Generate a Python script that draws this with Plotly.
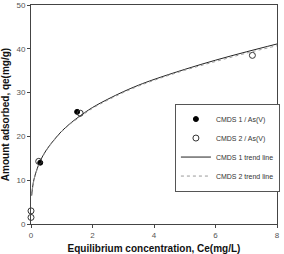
import plotly.graph_objects as go

# Data
c1_x = [0.3, 1.5]
c1_y = [14.0, 25.6]
c2_x = [0.0, 0.0, 0.25, 1.6, 7.2]
c2_y = [3.0, 1.5, 14.3, 25.3, 38.5]

trend_x = [0.02, 0.05, 0.1, 0.2, 0.3, 0.5, 0.75, 1.0, 1.25, 1.5, 2.0, 2.5, 3.0, 3.5, 4.0, 5.0, 6.0, 7.0, 8.0]
trend1_y = [6.5, 8.3, 10.3, 12.6, 14.4, 16.9, 19.2, 21.2, 22.8, 24.2, 26.6, 28.5, 30.2, 31.7, 33.0, 35.3, 37.4, 39.3, 41.1]
trend2_y = [6.4, 8.2, 10.2, 12.5, 14.3, 16.8, 19.1, 21.1, 22.7, 24.0, 26.4, 28.3, 30.0, 31.5, 32.8, 35.1, 37.1, 39.0, 40.7]

x_ticks = [0, 2, 4, 6, 8]
y_ticks = [0, 10, 20, 30, 40, 50]

fig = go.Figure()
fig.add_trace(go.Scatter(x=trend_x, y=trend1_y, mode="lines", name="CMDS 1 trend line",
                         line=dict(color="#222222", width=1, shape="spline"), legendrank=3))
fig.add_trace(go.Scatter(x=trend_x, y=trend2_y, mode="lines", name="CMDS 2 trend line",
                         line=dict(color="#999999", width=1, dash="dot", shape="spline"), legendrank=4))
fig.add_trace(go.Scatter(x=c1_x, y=c1_y, mode="markers", name="CMDS 1 / As(V)",
                         marker=dict(symbol="circle", size=5, color="black",
                                     line=dict(color="black", width=1)), cliponaxis=False, legendrank=1))
fig.add_trace(go.Scatter(x=c2_x, y=c2_y, mode="markers", name="CMDS 2 / As(V)",
                         marker=dict(symbol="circle-open", size=6, color="#333333",
                                     line=dict(color="#333333", width=1)), cliponaxis=False, legendrank=2))

fig.update_layout(
    width=284, height=254,
    margin=dict(l=31, r=4, t=5, b=30),
    paper_bgcolor="white", plot_bgcolor="white",
    font=dict(family="Liberation Sans, Arial, sans-serif", size=8, color="#555555"),
    showlegend=True,
    legend=dict(x=0.585, y=0.55, xanchor="left", yanchor="top",
                bgcolor="white", bordercolor="#555555", borderwidth=1,
                font=dict(size=7, color="#333333"),
                traceorder="normal", itemwidth=30, tracegroupgap=0),
    xaxis=dict(range=[0, 8], tickvals=x_ticks, ticks="outside", ticklen=3,
               showline=True, linecolor="#444444", linewidth=1, mirror=True,
               showgrid=False, zeroline=False, automargin=False,
               title=dict(text="<b>Equilibrium concentration, Ce(mg/L)</b>",
                          font=dict(size=10, color="#111111"), standoff=12)),
    yaxis=dict(range=[0, 50], tickvals=y_ticks, ticks="outside", ticklen=3,
               showline=True, linecolor="#444444", linewidth=1, mirror=True,
               showgrid=False, zeroline=False, automargin=False,
               title=dict(text="<b>Amount adsorbed, qe(mg/g)</b>",
                          font=dict(size=10, color="#111111"), standoff=4)),
)

fig.write_html("out.html")
